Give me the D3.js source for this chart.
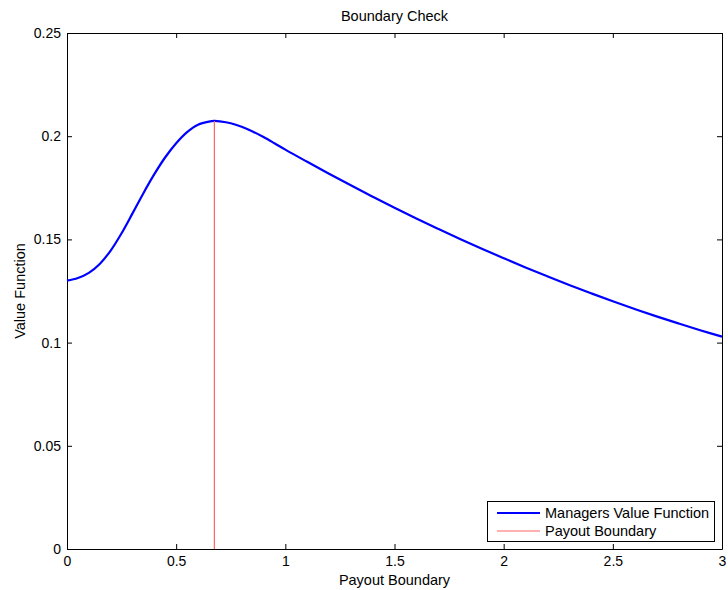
<!DOCTYPE html>
<html>
<head>
<meta charset="utf-8">
<script src="https://cdn.jsdelivr.net/npm/d3@7"></script>
<style>
  html, body { margin: 0; padding: 0; background: #fff; }
  svg { display: block; font-family: "Liberation Sans", Arial, Helvetica, sans-serif; }
</style>
</head>
<body>
<svg id="chart" width="728" height="590"></svg>
<script>
// Payout boundary grid and manager's value at each boundary
const boundary = [0, 0.05, 0.1, 0.15, 0.2, 0.25, 0.3, 0.35, 0.4, 0.45, 0.5, 0.55, 0.6, 0.65, 0.675,
  0.7, 0.75, 0.8, 0.85, 0.9, 0.95, 1.0, 1.1, 1.2, 1.3, 1.4, 1.5, 1.6, 1.7, 1.8, 1.9, 2.0,
  2.1, 2.2, 2.3, 2.4, 2.5, 2.6, 2.7, 2.8, 2.9, 3.0];
const valueFn = [0.1300, 0.1313, 0.1338, 0.1381, 0.1446, 0.1530, 0.1626, 0.1724, 0.1816, 0.1898,
  0.1966, 0.2020, 0.2056, 0.2071, 0.2074, 0.2072, 0.2063, 0.2046, 0.2023, 0.1996, 0.1966, 0.1935,
  0.1876, 0.1818, 0.1762, 0.1707, 0.1653, 0.1601, 0.1551, 0.1502, 0.1455, 0.1409, 0.1364, 0.1321,
  0.1279, 0.1239, 0.1200, 0.1163, 0.1127, 0.1093, 0.1060, 0.1029];
const optimalBoundary = 0.675;

const xTicks = [0, 0.5, 1, 1.5, 2, 2.5, 3];
const yTicks = [0, 0.05, 0.1, 0.15, 0.2, 0.25];
const xTickLabels = ["0", "0.5", "1", "1.5", "2", "2.5", "3"];
const yTickLabels = ["0", "0.05", "0.1", "0.15", "0.2", "0.25"];

const svg = d3.select("#chart");
const L = 67, R = 722, T = 33, B = 549;
const labelSize = "14.5px";
const tickSize = "14px";

const x = d3.scaleLinear().domain([0, 3]).range([L, R]);
const y = d3.scaleLinear().domain([0, 0.25]).range([B, T]);

// Axes with inward ticks on all four sides
const tickLen = 5;
const fmtX = d => xTickLabels[xTicks.indexOf(d)];
const fmtY = d => yTickLabels[yTicks.indexOf(d)];

const axisStyle = g => {
  g.selectAll("path.domain").attr("stroke", "#000").attr("stroke-width", 1);
  g.selectAll(".tick line").attr("stroke", "#000").attr("stroke-width", 1);
  g.selectAll(".tick text").attr("fill", "#000").style("font-size", tickSize);
};

svg.append("g").attr("transform", `translate(0,${B})`)
  .call(d3.axisBottom(x).tickValues(xTicks).tickFormat(fmtX).tickSizeInner(-tickLen).tickSizeOuter(0).tickPadding(7))
  .call(axisStyle);
svg.append("g").attr("transform", `translate(0,${T})`)
  .call(d3.axisTop(x).tickValues(xTicks).tickFormat("").tickSizeInner(-tickLen).tickSizeOuter(0))
  .call(axisStyle);
svg.append("g").attr("transform", `translate(${L},0)`)
  .call(d3.axisLeft(y).tickValues(yTicks).tickFormat(fmtY).tickSizeInner(-tickLen).tickSizeOuter(0).tickPadding(6))
  .call(axisStyle);
svg.append("g").attr("transform", `translate(${R},0)`)
  .call(d3.axisRight(y).tickValues(yTicks).tickFormat("").tickSizeInner(-tickLen).tickSizeOuter(0))
  .call(axisStyle);

// Value function curve
const line = d3.line()
  .x((d, i) => x(boundary[i]))
  .y(d => y(d))
  .curve(d3.curveCatmullRom.alpha(0.5));

svg.append("path")
  .datum(valueFn)
  .attr("fill", "none")
  .attr("stroke", "#0000ff")
  .attr("stroke-width", 2.2)
  .attr("d", line);

// Optimal payout boundary marker
const peakIdx = boundary.indexOf(optimalBoundary);
svg.append("line")
  .attr("x1", x(optimalBoundary)).attr("x2", x(optimalBoundary))
  .attr("y1", y(0)).attr("y2", y(valueFn[peakIdx]))
  .attr("stroke", "#ff6464")
  .attr("stroke-width", 1.2);

// Title and axis labels
svg.append("text")
  .attr("x", (L + R) / 2).attr("y", 21)
  .attr("text-anchor", "middle")
  .style("font-size", labelSize)
  .text("Boundary Check");

svg.append("text")
  .attr("x", (L + R) / 2).attr("y", 585)
  .attr("text-anchor", "middle")
  .style("font-size", labelSize)
  .text("Payout Boundary");

svg.append("text")
  .attr("transform", `translate(24.5,${(T + B) / 2}) rotate(-90)`)
  .attr("text-anchor", "middle")
  .style("font-size", labelSize)
  .text("Value Function");

// Legend
const lg = svg.append("g");
lg.append("rect")
  .attr("x", 487.5).attr("y", 501.5)
  .attr("width", 227).attr("height", 40)
  .attr("fill", "#fff").attr("stroke", "#000").attr("stroke-width", 1);

const legendItems = [
  { label: "Managers Value Function", color: "#0000ff", width: 2.2, yy: 513 },
  { label: "Payout Boundary", color: "#ff6464", width: 1.2, yy: 531 }
];
legendItems.forEach(it => {
  lg.append("line")
    .attr("x1", 497).attr("x2", 540)
    .attr("y1", it.yy).attr("y2", it.yy)
    .attr("stroke", it.color).attr("stroke-width", it.width);
  lg.append("text")
    .attr("x", 545).attr("y", it.yy + 5.2)
    .style("font-size", labelSize)
    .text(it.label);
});
</script>
</body>
</html>
